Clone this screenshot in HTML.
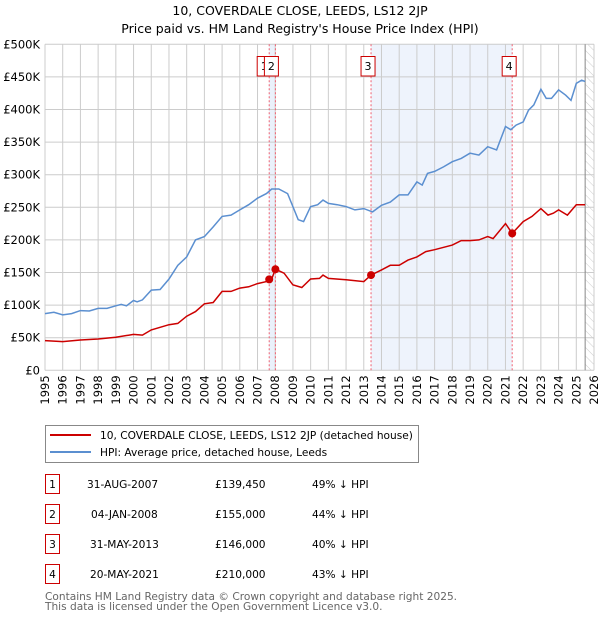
<!DOCTYPE html>
<html><head><meta charset="utf-8"><style>
body{margin:0;background:#fff;width:600px;height:620px;overflow:hidden;font-family:"DejaVu Sans","Liberation Sans",sans-serif;}
svg text{font-family:"DejaVu Sans","Liberation Sans",sans-serif;}
</style></head><body>
<svg id="chart" width="600" height="620" xmlns="http://www.w3.org/2000/svg">
<defs><pattern id="hatch" width="6" height="6" patternUnits="userSpaceOnUse" patternTransform="rotate(-45)"><line x1="0" y1="0" x2="0" y2="6" stroke="#ccc" stroke-width="1"/></pattern></defs>
<text x="300" y="15" text-anchor="middle" font-size="12.5">10, COVERDALE CLOSE, LEEDS, LS12 2JP</text>
<text x="300" y="33" text-anchor="middle" font-size="12.5">Price paid vs. HM Land Registry's House Price Index (HPI)</text>
<g id="plot"></g>
<g>
<rect x="45.5" y="425.5" width="373" height="37" fill="#fff" stroke="#888"/>
<line x1="50" y1="435" x2="91" y2="435" stroke="#cc0000" stroke-width="2"/>
<text x="100" y="439" font-size="10.6">10, COVERDALE CLOSE, LEEDS, LS12 2JP (detached house)</text>
<line x1="50" y1="452" x2="91" y2="452" stroke="#5b8fd0" stroke-width="2"/>
<text x="100" y="456" font-size="10.6">HPI: Average price, detached house, Leeds</text>
</g>
<g id="table"></g>
<text x="45" y="600" font-size="10.6" fill="#666">Contains HM Land Registry data © Crown copyright and database right 2025.</text>
<text x="45" y="610" font-size="10.6" fill="#666">This data is licensed under the Open Government Licence v3.0.</text>
</svg>
<script>
const yTicks=[0,50,100,150,200,250,300,350,400,450,500];
const yTickLabels=["£0","£50K","£100K","£150K","£200K","£250K","£300K","£350K","£400K","£450K","£500K"];
const xYears=[1995,1996,1997,1998,1999,2000,2001,2002,2003,2004,2005,2006,2007,2008,2009,2010,2011,2012,2013,2014,2015,2016,2017,2018,2019,2020,2021,2022,2023,2024,2025,2026];
const hpiT=[1995,1995.5,1996,1996.5,1997,1997.5,1998,1998.5,1999,1999.3,1999.6,2000,2000.2,2000.5,2001,2001.5,2002,2002.5,2003,2003.5,2004,2004.5,2005,2005.5,2006,2006.5,2007,2007.5,2007.8,2008.2,2008.7,2009,2009.3,2009.6,2010,2010.4,2010.7,2011,2011.5,2012,2012.5,2013,2013.5,2014,2014.5,2015,2015.5,2016,2016.3,2016.6,2017,2017.5,2018,2018.5,2019,2019.5,2020,2020.5,2021,2021.3,2021.6,2022,2022.3,2022.6,2023,2023.3,2023.6,2024,2024.4,2024.7,2025,2025.3,2025.5];
const hpiV=[87,89,85,87,91.5,91,95,95,99,101,99,107,105,108,123,124,140,161,174,200,205,220,236,238,246,254,264,271,278,278,271,251,231,228,251,254,261,256,254,251,246,248,243,253,258,269,269,289,284,302,305,312,320,325,333,330,343,338,374,369,376,381,399,407,431,417,417,430,422,414,440,445,443];
const ppT=[1995,1996,1997,1998,1999,2000,2000.5,2001,2002,2002.5,2003,2003.5,2004,2004.5,2005,2005.5,2006,2006.5,2007,2007.5,2007.66,2007.8,2008.01,2008.5,2009,2009.5,2010,2010.5,2010.7,2011,2012,2013,2013.41,2014,2014.5,2015,2015.5,2016,2016.5,2017,2018,2018.5,2019,2019.5,2020,2020.3,2021,2021.38,2022,2022.5,2023,2023.4,2023.7,2024,2024.5,2025,2025.5];
const ppV=[45.5,44,46.5,48,50.6,55,54,62,70,72,83,90,102,104,121,121,126,128,133,136,139.45,140,155,149,131,127,140,141,146,141,139,136,146,154,161,161,169,174,182,185,192,199,199,200,205,202,225,210,228,236,248,238,241,246,238,254,254];
const saleIds=["1","2","3","4"];
const saleT=[2007.66,2008.01,2013.41,2021.38];
const saleV=[139.45,155,146,210];
const saleDates=["31-AUG-2007","04-JAN-2008","31-MAY-2013","20-MAY-2021"];
const salePrices=["£139,450","£155,000","£146,000","£210,000"];
const saleHpi=["49% ↓ HPI","44% ↓ HPI","40% ↓ HPI","43% ↓ HPI"];
const X0=45,X1=594,Y0=370.3,Y1=44.3;
const xs=t=>X0+(t-1995)/(2026-1995)*(X1-X0);
const ys=v=>Y0-v/500*(Y0-Y1);
const NS="http://www.w3.org/2000/svg";
const plot=document.getElementById('plot');
function mk(tag,attrs,parent){const e=document.createElementNS(NS,tag);for(const k in attrs)e.setAttribute(k,attrs[k]);(parent||plot).appendChild(e);return e;}
let r=mk('rect',{x:xs(saleT[0]),y:Y1,width:xs(saleT[1])-xs(saleT[0]),height:Y0-Y1,fill:'#eaf1fb'});


r=mk('rect',{x:xs(saleT[2]),y:Y1,width:xs(saleT[3])-xs(saleT[2]),height:Y0-Y1,fill:'#eef3fc'});


r=mk('rect',{x:xs(2025.5),y:Y1,width:X1-xs(2025.5),height:Y0-Y1,fill:'url(#hatch)'});


yTicks.forEach((v,i)=>{
 const l=mk('line',{x1:X0,x2:X1,y1:ys(v),y2:ys(v),stroke:'#cccccc','stroke-width':1});
 
 
 const t=mk('text',{x:X0-5,y:ys(v)+4,'text-anchor':'end','font-size':'11.5'});
 
 
 t.textContent=yTickLabels[i];
});
xYears.forEach(yr=>{
 const l=mk('line',{x1:xs(yr),x2:xs(yr),y1:Y1,y2:Y0,stroke:'#cccccc','stroke-width':1});
 
 
 const t=mk('text',{x:0,y:0,'text-anchor':'end','font-size':'11.5',transform:`translate(${xs(yr)+4},${Y0+5}) rotate(-90)`});
 
 
 t.textContent=yr;
});
let ed=mk('line',{x1:xs(2025.5),x2:xs(2025.5),y1:Y1,y2:Y0,stroke:'#888','stroke-width':1});


saleT.forEach((t,i)=>{
 const l=mk('line',{x1:xs(t),x2:xs(t),y1:Y1,y2:Y0,stroke:'#f06070','stroke-width':1,'stroke-dasharray':'2,2'});
 
 
});
const pts=(T,V)=>T.map((t,i)=>xs(t).toFixed(1)+','+ys(V[i]).toFixed(1)).join(' ');
let p=mk('polyline',{points:pts(hpiT,hpiV),fill:'none',stroke:'#5b8fd0','stroke-width':1.5});


p=mk('polyline',{points:pts(ppT,ppV),fill:'none',stroke:'#cc0000','stroke-width':1.5});


const offs=[-5,-4,-3,-3];
saleT.forEach((t,i)=>{
 const c=mk('circle',{cx:xs(t),cy:ys(saleV[i]),r:4,fill:'#cc0000'});
 
 
 const g=mk('g',{});
 
 
 const bx=xs(t)+offs[i]-7;
 mk('rect',{x:bx,y:56.5,width:14,height:19.5,fill:'#fff',stroke:'#cc0000','stroke-width':1},g);
 const tx=mk('text',{x:bx+7,y:70,'text-anchor':'middle','font-size':'11'},g);
 tx.textContent=saleIds[i];
});
const tb=document.getElementById('table');
saleIds.forEach((id,i)=>{
 const y=483+i*30;
 const g=mk('g',{},tb);
 
 
 mk('rect',{x:45.5,y:y-8.5,width:14,height:19,fill:'#fff',stroke:'#cc0000'},g);
 let t=mk('text',{x:52.5,y:y+5,'text-anchor':'middle','font-size':'10.6'},g);t.textContent=id;
 t=mk('text',{x:i==1?91:i==0?87:90,y:y+5,'font-size':'10.6'},g);t.textContent=saleDates[i];
 t=mk('text',{x:215,y:y+5,'font-size':'10.6'},g);t.textContent=salePrices[i];
 t=mk('text',{x:312,y:y+5,'font-size':'10.6'},g);t.textContent=saleHpi[i];
});
</script>
</body></html>
